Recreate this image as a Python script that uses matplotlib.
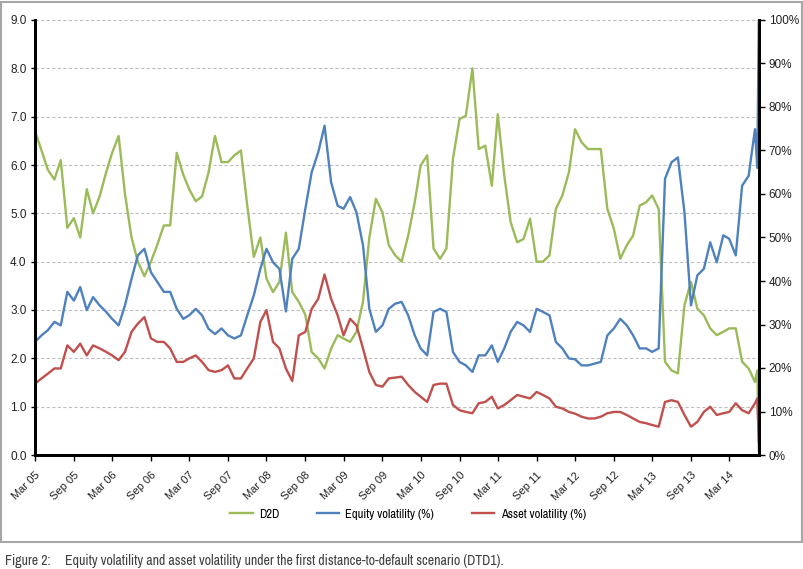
import pandas as pd
import matplotlib
matplotlib.use('Agg')
import matplotlib.pyplot as plt
import matplotlib.dates as mdates
from matplotlib.patches import Rectangle
from matplotlib.ticker import MultipleLocator, FuncFormatter

# monthly readings, Mar 2005 .. Jul 2014, plus the two last daily points
dates = list(pd.date_range('2005-03-01', periods=113, freq='MS')) + \
    [pd.Timestamp('2014-07-12'), pd.Timestamp('2014-07-19')]

d2d = [6.7, 6.3, 5.9, 5.7, 6.1, 4.7, 4.9, 4.5, 5.5, 5.0,
       5.35, 5.85, 6.25, 6.6, 5.4, 4.5, 4.0, 3.7, 4.0, 4.35,
       4.75, 4.75, 6.25, 5.8, 5.5, 5.25, 5.35, 5.85, 6.6, 6.06,
       6.06, 6.2, 6.3, 5.16, 4.1, 4.5, 3.65, 3.37, 3.58, 4.6,
       3.37, 3.17, 2.9, 2.13, 2.0, 1.79, 2.2, 2.48, 2.41, 2.34,
       2.55, 3.17, 4.5, 5.3, 5.02, 4.34, 4.13, 4.0, 4.54, 5.23,
       5.99, 6.2, 4.27, 4.06, 4.27, 6.13, 6.95, 7.02, 8.0, 6.33,
       6.4, 5.57, 7.05, 5.78, 4.82, 4.4, 4.47, 4.89, 4.0, 4.0,
       4.13, 5.09, 5.37, 5.85, 6.74, 6.47, 6.33, 6.33, 6.33, 5.09,
       4.68, 4.06, 4.34, 4.54, 5.16, 5.23, 5.37, 5.09, 1.93, 1.75,
       1.69, 3.1, 3.58, 3.03, 2.89, 2.62, 2.48, 2.55, 2.62, 2.62,
       1.93, 1.79, 1.51, 1.75, 0.1]

equity_vol = [26, 27.5, 28.7, 30.6, 29.8, 37.5, 35.5, 38.6, 33.3, 36.3,
              34.4, 32.9, 31.3, 29.8, 34.4, 40.5, 45.9, 47.4, 42, 39.8,
              37.5, 37.5, 33.6, 31.3, 32.1, 33.6, 32.1, 29, 27.8, 29.1,
              27.5, 26.8, 27.5, 32.1, 36.7, 42.8, 47.4, 44.3, 42.8, 33,
              45.1, 47.4, 56.6, 65, 69.6, 75.7, 62.7, 57.3, 56.6, 59.3,
              55.8, 48.2, 33.6, 28.3, 29.8, 33.6, 34.8, 35.2, 32.1, 27.5,
              24.5, 22.9, 32.9, 33.6, 32.9, 23.7, 21.4, 20.6, 19.1, 22.9,
              22.9, 25.2, 21.4, 24.5, 28.3, 30.6, 29.8, 28.3, 33.6, 32.9,
              32.1, 26, 24.5, 22.2, 22, 20.6, 20.6, 21, 21.4, 27.5,
              29.1, 31.3, 29.8, 27.5, 24.5, 24.5, 23.7, 24.5, 63.5, 67.3,
              68.4, 55.8, 34.4, 41.3, 42.8, 48.9, 44.3, 50.5, 49.7, 45.9,
              61.9, 64.2, 74.9, 66, 100]

asset_vol = [16.4, 17.6, 18.7, 19.9, 19.9, 25.2, 23.7, 25.6, 22.9, 25.2,
             24.5, 23.7, 22.9, 21.8, 23.7, 28.3, 30.2, 31.7, 26.8, 26,
             26, 24.5, 21.4, 21.4, 22.2, 22.9, 21.4, 19.5, 19.1, 19.5,
             20.6, 17.6, 17.6, 19.9, 22.2, 30.6, 33.3, 26, 24.5, 19.9,
             17, 27.5, 28.3, 33.6, 35.9, 41.5, 35.9, 32.1, 27.5, 31.3,
             29.8, 24.5, 19.1, 16.1, 15.7, 17.6, 17.8, 18, 16.1, 14.5,
             13.4, 12.2, 16.1, 16.4, 16.4, 11.5, 10.3, 9.9, 9.6, 11.9,
             12.2, 13.4, 10.7, 11.5, 12.6, 13.8, 13.4, 13, 14.5, 13.8,
             13, 11.1, 10.7, 9.9, 9.5, 8.8, 8.4, 8.4, 8.8, 9.6,
             9.9, 9.9, 9.2, 8.4, 7.6, 7.3, 6.9, 6.5, 12.2, 12.6,
             12.2, 9.2, 6.5, 7.6, 9.9, 11.1, 9.2, 9.6, 9.9, 11.9,
             10.3, 9.6, 11.9, 13, 3]

green = '#9BBB59'
blue = '#4F81BD'
red = '#C0504D'
narrow = ['Archivo Narrow', 'DejaVu Sans']
plain = ['Liberation Sans', 'DejaVu Sans']

fig = plt.figure(figsize=(8.04, 5.69), dpi=100)
ax = fig.add_axes([35 / 804, 1 - 455 / 569, 724 / 804, 435 / 569])
ax2 = ax.twinx()

ax.plot(dates, d2d, color=green, linewidth=1.7, label='D2D')
ax2.plot(dates, equity_vol, color=blue, linewidth=1.7, label='Equity volatility (%)')
ax2.plot(dates, asset_vol, color=red, linewidth=1.7, label='Asset volatility (%)')

ax.set_ylim(0, 9)
ax2.set_ylim(0, 100)
ax.set_xlim(pd.Timestamp('2005-03-01'), pd.Timestamp('2014-07-20'))

ax.yaxis.set_major_locator(MultipleLocator(1))
ax.yaxis.set_major_formatter(FuncFormatter(lambda v, p: f'{v:.1f}'))
ax2.yaxis.set_major_locator(MultipleLocator(10))
ax2.yaxis.set_major_formatter(FuncFormatter(lambda v, p: f'{v:.0f}%'))
ax.grid(True, axis='y', color='#BFBFBF', linestyle=(0, (3, 2)), linewidth=0.8)

ax.xaxis.set_major_locator(mdates.MonthLocator(bymonth=[3, 9]))
ax.xaxis.set_major_formatter(mdates.DateFormatter('%b %y'))
for lab in ax.get_xticklabels():
    lab.set_rotation(45)
    lab.set_ha('right')
    lab.set_rotation_mode('anchor')
    lab.set_family(plain)
    lab.set_fontsize(8)
    lab.set_color('#222222')
for lab in ax.get_yticklabels() + ax2.get_yticklabels():
    lab.set_family(plain)
    lab.set_color('#222222')

for a in (ax, ax2):
    a.spines['top'].set_visible(False)
    for s in ('left', 'right', 'bottom'):
        a.spines[s].set_linewidth(2)
        a.spines[s].set_color('black')
ax.tick_params(axis='y', length=3, width=1, labelsize=8.5, pad=3)
ax.tick_params(axis='x', length=4, width=1, pad=7)
ax2.tick_params(axis='y', length=4, width=1, labelsize=8.5, pad=3)

h1, l1 = ax.get_legend_handles_labels()
h2, l2 = ax2.get_legend_handles_labels()
fig.legend(h1 + h2, l1 + l2, loc='center', bbox_to_anchor=(408 / 804, 1 - 514 / 569),
           ncol=3, frameon=False, prop={'family': narrow, 'size': 9},
           handlelength=1.8, columnspacing=3.0, handletextpad=0.5)

fig.patches.append(Rectangle((1 / 804, 1 - 542 / 569), 801 / 804, 540 / 569,
                             transform=fig.transFigure, fill=False,
                             edgecolor='#A6A6A6', linewidth=1.5))

fig.text(5 / 804, 1 - 561 / 569, 'Figure 2:', family=narrow, fontsize=10,
         fontweight='bold', color='#404040', va='center')
fig.text(65 / 804, 1 - 561 / 569,
         'Equity volatility and asset volatility under the first distance-to-default scenario (DTD1).',
         family=narrow, fontsize=10, color='#404040', va='center')

fig.savefig('out.png', dpi=100)
